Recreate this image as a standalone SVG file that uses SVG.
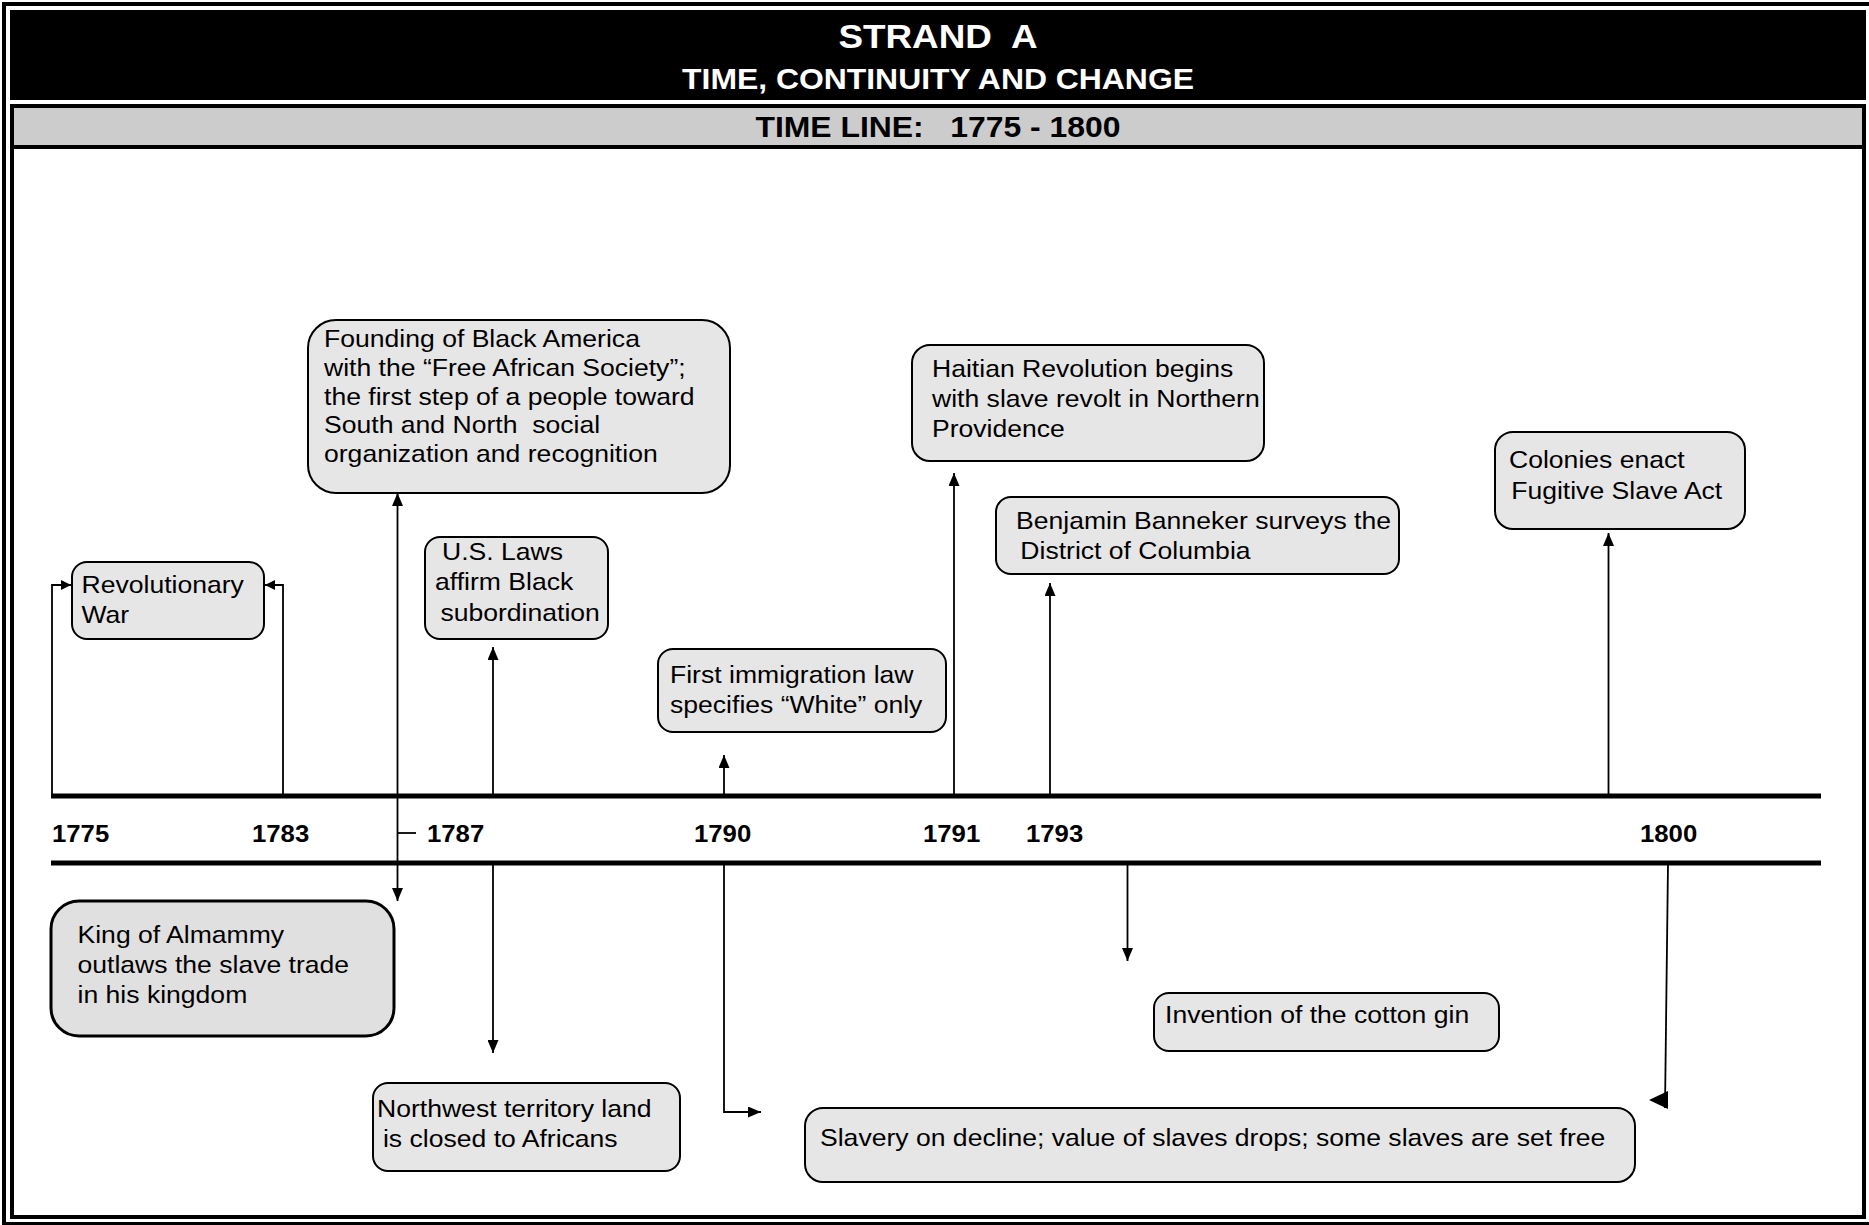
<svg xmlns="http://www.w3.org/2000/svg" width="1869" height="1225" viewBox="0 0 1869 1225">
<style>
.frame{fill:none;stroke:#000;stroke-width:4}
.box{fill:#e6e6e6;stroke:#000;stroke-width:2}
.king{fill:#e0e0e0;stroke:#000;stroke-width:3}
.t{font-family:"Liberation Sans",Arial,Helvetica,sans-serif;font-size:24.6px;fill:#000}
.yr{font-family:"Liberation Sans",Arial,Helvetica,sans-serif;font-size:23.8px;font-weight:bold;fill:#000}
.hd{font-family:"Liberation Sans",Arial,Helvetica,sans-serif;font-weight:bold;text-anchor:middle}
.conn{stroke:#000;stroke-width:1.8;fill:none}
.axis{stroke:#000;stroke-width:5}
</style>
<defs>
<marker id="ah" viewBox="0 0 13 11" refX="13" refY="5.5" markerWidth="13" markerHeight="11" markerUnits="userSpaceOnUse" orient="auto-start-reverse">
<path d="M0,0 L13,5.5 L0,11 z" fill="#000"/>
</marker>
<marker id="ahs" viewBox="0 0 10 10" refX="10" refY="5" markerWidth="10" markerHeight="10" markerUnits="userSpaceOnUse" orient="auto">
<path d="M0,0 L10,5 L0,10 z" fill="#000"/>
</marker>
</defs>
<rect width="1869" height="1225" fill="#fff"/>
<g id="frame">
<rect class="frame" x="4" y="4" width="1868" height="1220"/>
<rect class="frame" x="12" y="106" width="1852" height="1111"/>
<rect x="10" y="10" width="1856" height="90" fill="#000"/>
<rect x="12" y="106" width="1852" height="41" fill="#cccccc" stroke="#000" stroke-width="4"/>
<text class="hd" xml:space="preserve" transform="translate(938 48) scale(1.1 1)" font-size="33.5" fill="#fff">STRAND  A</text>
<text class="hd" transform="translate(938 89) scale(1.1 1)" font-size="29" fill="#fff">TIME, CONTINUITY AND CHANGE</text>
<text class="hd" xml:space="preserve" transform="translate(938 137) scale(1.1 1)" font-size="29" fill="#000">TIME LINE:   1775 - 1800</text>
</g>
<g id="timeline">
<line class="axis" x1="51" y1="796" x2="1821" y2="796"/>
<line class="axis" x1="51" y1="863" x2="1821" y2="863"/>
<text class="yr" transform="translate(52 842) scale(1.08 1)">1775</text>
<text class="yr" transform="translate(252 842) scale(1.08 1)">1783</text>
<text class="yr" transform="translate(427 842) scale(1.08 1)">1787</text>
<text class="yr" transform="translate(694 842) scale(1.08 1)">1790</text>
<text class="yr" transform="translate(923 842) scale(1.08 1)">1791</text>
<text class="yr" transform="translate(1026 842) scale(1.08 1)">1793</text>
<text class="yr" transform="translate(1640 842) scale(1.08 1)">1800</text>
</g>
<g id="connectors">
<polyline class="conn" points="52,795 52,585 71,585" marker-end="url(#ahs)"/>
<polyline class="conn" points="283,795 283,585 265,585" marker-end="url(#ahs)"/>
<line class="conn" x1="397.5" y1="493" x2="397.5" y2="901" marker-start="url(#ah)" marker-end="url(#ah)"/>
<line class="conn" x1="397" y1="833" x2="416" y2="833"/>
<line class="conn" x1="493" y1="795" x2="493" y2="647" marker-end="url(#ah)"/>
<line class="conn" x1="493" y1="864" x2="493" y2="1053" marker-end="url(#ah)"/>
<line class="conn" x1="724" y1="795" x2="724" y2="755" marker-end="url(#ah)"/>
<polyline class="conn" points="724,864 724,1112 761,1112" marker-end="url(#ah)"/>
<line class="conn" x1="954" y1="795" x2="954" y2="473" marker-end="url(#ah)"/>
<line class="conn" x1="1050" y1="795" x2="1050" y2="583" marker-end="url(#ah)"/>
<line class="conn" x1="1127.5" y1="864" x2="1127.5" y2="961" marker-end="url(#ah)"/>
<line class="conn" x1="1608.5" y1="795" x2="1608.5" y2="533" marker-end="url(#ah)"/>
<polyline class="conn" points="1668,864 1665,1108"/>
<path d="M1649,1100 L1668,1091 L1668,1109 z" fill="#000"/>
</g>
<g id="n-revolutionary">
<rect class="box" x="72" y="562" width="192" height="77" rx="15"/>
<text class="t" transform="translate(81.5 593) scale(1.08 1)"><tspan x="0" y="0">Revolutionary</tspan><tspan x="0" y="30">War</tspan></text>
</g>
<g id="n-founding">
<rect class="box" x="308" y="320" width="422" height="173" rx="28"/>
<text class="t" xml:space="preserve" transform="translate(324 347) scale(1.08 1)"><tspan x="0" y="0">Founding of Black America</tspan><tspan x="0" y="28.8">with the “Free African Society”;</tspan><tspan x="0" y="57.6">the first step of a people toward</tspan><tspan x="0" y="86.4">South and North  social</tspan><tspan x="0" y="115.2">organization and recognition</tspan></text>
</g>
<g id="n-uslaws">
<rect class="box" x="425" y="537" width="183" height="102" rx="15"/>
<text class="t" transform="translate(435 560) scale(1.08 1)"><tspan x="6.5" y="0">U.S. Laws</tspan><tspan x="0" y="30">affirm Black</tspan><tspan x="5" y="61">subordination</tspan></text>
</g>
<g id="n-king">
<rect class="king" x="51" y="901" width="343" height="135" rx="28"/>
<text class="t" transform="translate(77.5 943) scale(1.08 1)"><tspan x="0" y="0">King of Almammy</tspan><tspan x="0" y="30">outlaws the slave trade</tspan><tspan x="0" y="60">in his kingdom</tspan></text>
</g>
<g id="n-northwest">
<rect class="box" x="373" y="1083" width="307" height="88" rx="15"/>
<text class="t" transform="translate(377 1117) scale(1.08 1)"><tspan x="0" y="0">Northwest territory land</tspan><tspan x="5.5" y="30">is closed to Africans</tspan></text>
</g>
<g id="n-immigration">
<rect class="box" x="658" y="649" width="288" height="83" rx="15"/>
<text class="t" transform="translate(670 683) scale(1.08 1)"><tspan x="0" y="0">First immigration law</tspan><tspan x="0" y="30">specifies “White” only</tspan></text>
</g>
<g id="n-haitian">
<rect class="box" x="912" y="345" width="352" height="116" rx="18"/>
<text class="t" transform="translate(932 377) scale(1.08 1)"><tspan x="0" y="0">Haitian Revolution begins</tspan><tspan x="0" y="30">with slave revolt in Northern</tspan><tspan x="0" y="60">Providence</tspan></text>
</g>
<g id="n-banneker">
<rect class="box" x="996" y="497" width="403" height="77" rx="15"/>
<text class="t" transform="translate(1016 529) scale(1.08 1)"><tspan x="0" y="0">Benjamin Banneker surveys the</tspan><tspan x="4" y="30">District of Columbia</tspan></text>
</g>
<g id="n-colonies">
<rect class="box" x="1495" y="432" width="250" height="97" rx="18"/>
<text class="t" transform="translate(1509 468) scale(1.08 1)"><tspan x="0" y="0">Colonies enact</tspan><tspan x="2" y="31">Fugitive Slave Act</tspan></text>
</g>
<g id="n-cottongin">
<rect class="box" x="1154" y="993" width="345" height="58" rx="15"/>
<text class="t" transform="translate(1165 1023) scale(1.08 1)">Invention of the cotton gin</text>
</g>
<g id="n-slavery">
<rect class="box" x="805" y="1108" width="830" height="74" rx="18"/>
<text class="t" transform="translate(820 1146) scale(1.08 1)">Slavery on decline; value of slaves drops; some slaves are set free</text>
</g>
</svg>
